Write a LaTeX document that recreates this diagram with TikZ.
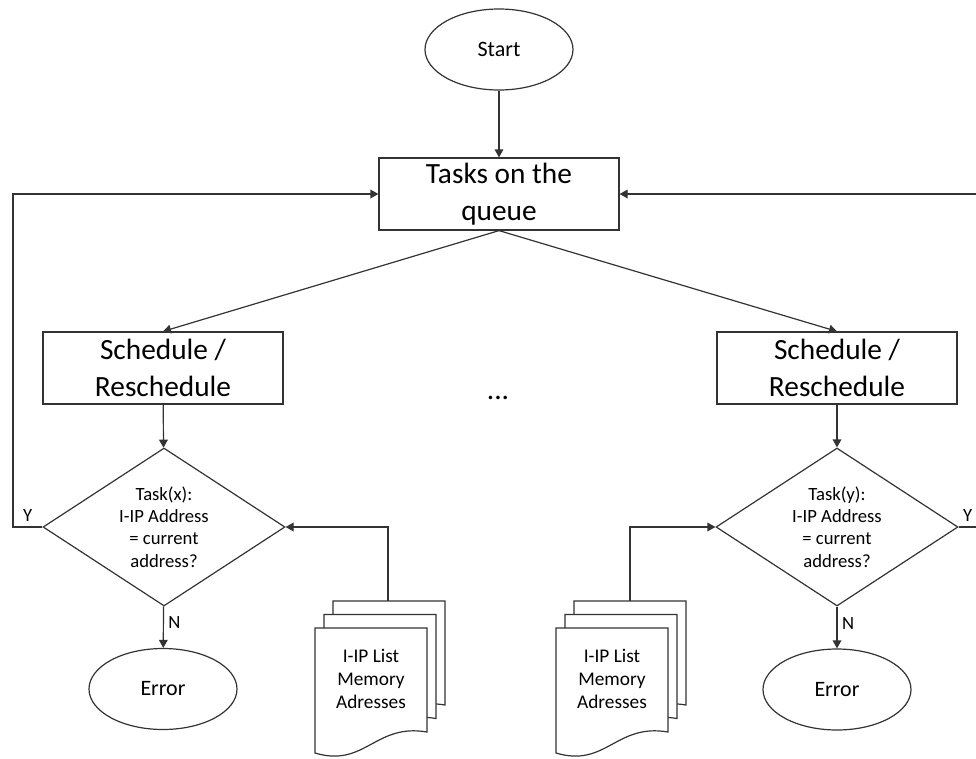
\documentclass[tikz,border=0pt]{standalone}
\usepackage{fontspec}
\setmainfont{Carlito}
\usetikzlibrary{arrows.meta,shapes.geometric}
\tikzset{
    flow chart/.style = {x=0.75pt, y=-0.75pt,
                         >={Triangle[length=6pt, width=6.5pt]}},
    line/.style       = {draw=black!80, line width=0.9pt},
    terminal/.style   = {line, ellipse, inner sep=0pt,
                         minimum width=111pt, minimum height=60.75pt,
                         font=\fontsize{16.5}{19}\selectfont},
    process/.style    = {line, rectangle, align=center, inner sep=0pt,
                         minimum width=180pt, minimum height=54pt,
                         font=\fontsize{22}{27.7}\selectfont},
    decision/.style   = {line, diamond, shape aspect=1.5, align=center,
                         inner sep=0pt,
                         minimum width=181.5pt, minimum height=118.5pt,
                         font=\fontsize{14}{16.7}\selectfont},
    page/.style       = {line, fill=white},
    doc text/.style   = {align=center, inner sep=0pt,
                         font=\fontsize{14.5}{17}\selectfont},
    branch/.style     = {font=\fontsize{14}{16}\selectfont}
}

\begin{document}
\begin{tikzpicture}[flow chart]
\useasboundingbox (0,0) rectangle (976,758);

% ================= Main flow =================
\node[terminal] (start) at (499,49.5) {Start};
\node[process] (queue) at (499,194) {Tasks on the\\queue};
\node[process] (schedL) at (163,368) {Schedule /\\Reschedule};
\node[process] (schedR) at (837,368) {Schedule /\\Reschedule};
\node[font=\fontsize{22}{26}\selectfont] (more) at (498,398) {...};

% ================= Address checks =================
\node[decision] (checkL) at (164,527)
    {Task(x):\\I-IP Address\\= current\\address?};
\node[decision] (checkR) at (837,527)
    {Task(y):\\I-IP Address\\= current\\address?};
\node[terminal] (errL) at (163,689) {Error};
\node[terminal] (errR) at (837,689.5) {Error};

% ================= Memory address lists =================
\begin{scope}[shift={(315,628)}]
  \foreach \o in {2,1,0}
    \draw[page, shift={(9*\o,-13.5*\o)}] (0,0) -- (112,0) -- (112,104)
      .. controls (60,95) and (50,140) .. (0,125) -- cycle;
  \node[doc text] (listL) at (56,51) {I-IP List\\Memory\\Adresses};
  \coordinate (feedL) at (73,-27);
\end{scope}
\begin{scope}[shift={(556,628)}]
  \foreach \o in {2,1,0}
    \draw[page, shift={(9*\o,-13.5*\o)}] (0,0) -- (112,0) -- (112,104)
      .. controls (60,95) and (50,140) .. (0,125) -- cycle;
  \node[doc text] (listR) at (56,51) {I-IP List\\Memory\\Adresses};
  \coordinate (feedR) at (74,-27);
\end{scope}

% ================= Connectors =================
\coordinate (loopL) at (13,527);
\coordinate (loopR) at (976.5,527);
\draw[line, ->] (start) -- (queue);
\draw[line, ->] (queue.south) -- (schedL.north);
\draw[line, ->] (queue.south) -- (schedR.north);
\draw[line, ->] (schedL) -- (checkL);
\draw[line, ->] (schedR) -- (checkR);
\draw[line, ->] (checkL) -- node[branch, right, pos=0.4] {N} (errL);
\draw[line, ->] (checkR) -- node[branch, right, pos=0.4] {N} (errR);
\draw[line, ->] (checkL.west) -- node[branch, above] {Y} (loopL)
    |- (queue.west);
\draw[line, ->] (checkR.east) -- node[branch, above] {Y} (loopR)
    |- (queue.east);
\draw[line, ->] (feedL) |- (checkL.east);
\draw[line, ->] (feedR) |- (checkR.west);

\end{tikzpicture}
\end{document}
